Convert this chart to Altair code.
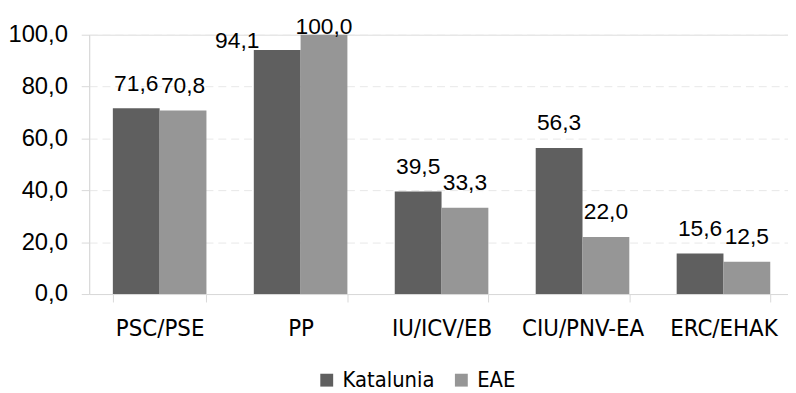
import altair as alt
import pandas as pd

categories = ["PSC/PSE", "PP", "IU/ICV/EB", "CIU/PNV-EA", "ERC/EHAK"]
series = ["Katalunia", "EAE"]
katalunia = [71.6, 94.1, 39.5, 56.3, 15.6]
eae = [70.8, 100.0, 33.3, 22.0, 12.5]
y_ticks = [0, 20, 40, 60, 80, 100]
colors = ["#5f5f5f", "#969696"]

rows = []
for i, c in enumerate(categories):
    rows.append({"category": c, "series": "Katalunia", "value": katalunia[i]})
    rows.append({"category": c, "series": "EAE", "value": eae[i]})
df = pd.DataFrame(rows)

NARROW = "'Liberation Sans Narrow', 'Arial Narrow', 'DejaVu Sans Condensed', sans-serif"
REG = "'Liberation Sans', Arial, sans-serif"

x = alt.X(
    "category:N",
    sort=categories,
    scale=alt.Scale(range=[0, 712], paddingInner=0.336, paddingOuter=0.168),
    axis=alt.Axis(
        title=None, labelAngle=0, labelFont=NARROW, labelFontSize=24,
        labelColor="#000000", tickBand="extent", tickSize=8, tickColor="#d9d9d9",
        domainColor="#d9d9d9", labelPadding=15, grid=False,
    ),
)
xo = alt.XOffset("series:N", sort=series, scale=alt.Scale(paddingInner=0, paddingOuter=0))
y = alt.Y(
    "value:Q",
    scale=alt.Scale(domain=[0, 100], nice=False),
    axis=alt.Axis(
        title=None, values=y_ticks,
        labelExpr="replace(format(datum.value, '.1f'), '.', ',')",
        labelFont=REG, labelFontSize=24, labelColor="#000000", labelPadding=14,
        tickSize=8, tickColor="#d9d9d9", domainColor="#d9d9d9",
        gridColor="#e8e8e8", gridDash=[8, 5],
    ),
)

base = alt.Chart(df).transform_calculate(
    label="replace(format(datum.value, '.1f'), '.', ',')"
)

bars = base.mark_bar().encode(
    x=x, xOffset=xo, y=y,
    color=alt.Color(
        "series:N", sort=series,
        scale=alt.Scale(domain=series, range=colors),
        legend=alt.Legend(
            title=None, orient="none", legendX=229, legendY=338,
            direction="horizontal", symbolType="square", symbolSize=169,
            symbolStrokeWidth=0, labelFont=NARROW, labelFontSize=22,
            labelColor="#000000", columnPadding=16, labelOffset=5,
        ),
    ),
)

txt_normal = base.transform_filter("datum.value < 90").mark_text(
    font=REG, fontSize=23, color="#000000", baseline="alphabetic", dy=-18
).encode(x=x, xOffset=xo, y=y, text="label:N")

txt_top_light = base.transform_filter("datum.value >= 90 && datum.series == 'EAE'").mark_text(
    font=REG, fontSize=23, color="#000000", baseline="alphabetic", dy=-1
).encode(x=x, xOffset=xo, y=y, text="label:N")

txt_top_dark = base.transform_filter("datum.value >= 90 && datum.series == 'Katalunia'").mark_text(
    font=REG, fontSize=23, color="#000000", baseline="alphabetic", align="right", dx=-18, dy=-2
).encode(x=x, xOffset=xo, y=y, text="label:N")

chart = alt.layer(bars, txt_normal, txt_top_light, txt_top_dark).properties(
    width=706, height=262,
    autosize=alt.AutoSizeParams(type="none"),
    padding={"left": 82, "top": 25, "right": 0, "bottom": 100},
).configure_view(stroke=None).configure(background="#ffffff")

chart.save("out.html", embed_options={"renderer": "svg", "actions": False})
